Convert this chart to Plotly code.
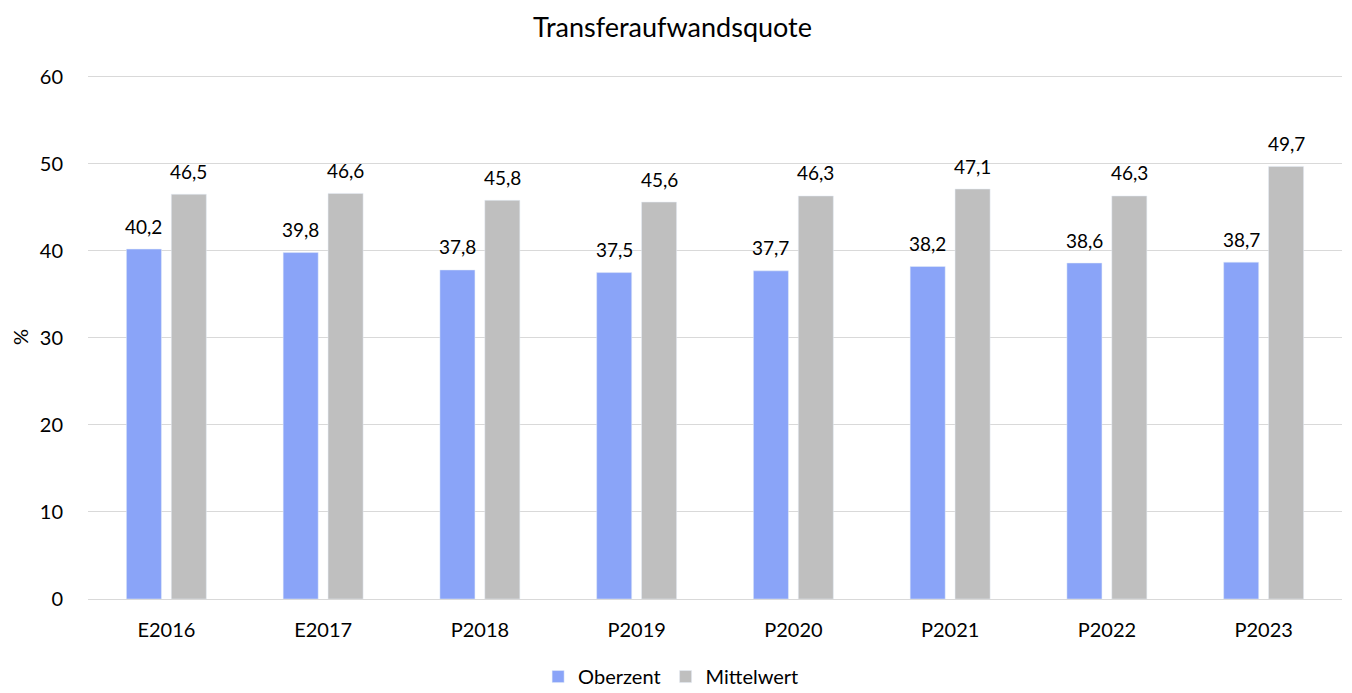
import plotly.graph_objects as go

categories = ["E2016", "E2017", "P2018", "P2019", "P2020", "P2021", "P2022", "P2023"]
oberzent = [40.2, 39.8, 37.8, 37.5, 37.7, 38.2, 38.6, 38.7]
mittelwert = [46.5, 46.6, 45.8, 45.6, 46.3, 47.1, 46.3, 49.7]
y_ticks = [0, 10, 20, 30, 40, 50, 60]

FONT = "Lato, 'Open Sans', sans-serif"
BLUE = "#8aa4f8"
GRAY = "#bfbfbf"

fig = go.Figure()
fig.add_trace(go.Bar(name="Oberzent", x=categories, y=oberzent, marker_color=BLUE))
fig.add_trace(go.Bar(name="Mittelwert", x=categories, y=mittelwert, marker_color=GRAY))

def fmt(v):
    return f"{v:.1f}".replace(".", ",")

annotations = []
for c, v in zip(categories, oberzent):
    annotations.append(dict(x=c, y=v, xref="x", yref="y", text=fmt(v), showarrow=False,
                            xshift=-22.5, yshift=23, font=dict(size=19, color="#000", family=FONT)))
for c, v in zip(categories, mittelwert):
    annotations.append(dict(x=c, y=v, xref="x", yref="y", text=fmt(v), showarrow=False,
                            xshift=22.5, yshift=23, font=dict(size=19, color="#000", family=FONT)))

fig.update_layout(
    width=1344, height=685,
    paper_bgcolor="white", plot_bgcolor="white",
    font=dict(family=FONT, size=20, color="#000"),
    title=dict(text="Transferaufwandsquote", x=0.4944, xanchor="center", y=0.972, yanchor="middle",
               font=dict(size=27, family=FONT, color="#000")),
    margin=dict(l=80, r=10, t=67, b=94, autoexpand=False),
    barmode="group", bargap=0.427, bargroupgap=0.22,
    separators=",.",
    showlegend=True,
    legend=dict(orientation="h", x=0.465, xanchor="center", y=-0.148, yanchor="middle",
                font=dict(size=20, family=FONT), itemwidth=30, traceorder="normal"),
    annotations=annotations,
)
fig.update_yaxes(range=[0, 60.2], tickvals=y_ticks, showgrid=True, gridcolor="#d9d9d9", gridwidth=1.3,
                 zeroline=False, showline=False, ticks="", ticklabelstandoff=24,
                 title=dict(text="%", font=dict(size=20, family=FONT), standoff=18),
                 tickfont=dict(size=20, family=FONT))
fig.update_xaxes(showline=True, linecolor="#d9d9d9", linewidth=1.3, ticks="", ticklabelstandoff=13,
                 tickfont=dict(size=20, family=FONT))

fig.write_html("out.html")
